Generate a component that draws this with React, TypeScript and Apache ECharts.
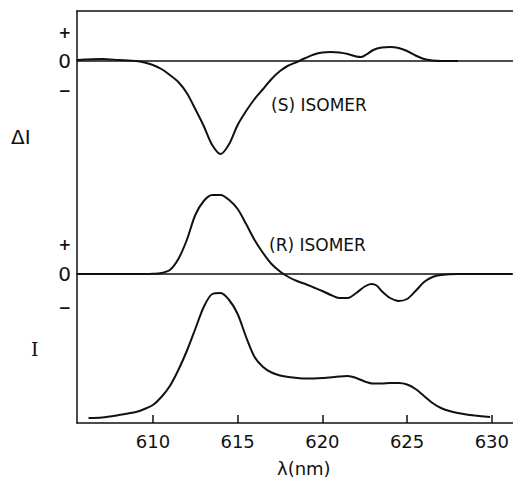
import { useEffect, useRef } from "react";
import * as echarts from "echarts";

// Wavelength axis (nm)
const xTicks = [610, 615, 620, 625, 630];
const X_MIN = 605.52;
const X_MAX = 631.25;

// (S) isomer: circularly polarised difference signal ΔI
const sWavelength = [605.5, 606, 607, 608, 609, 609.5, 610, 610.5, 611, 611.5, 612, 612.5, 613, 613.5, 614, 614.5, 615, 615.5, 616, 616.5, 617, 617.5, 618, 618.5, 619, 619.5, 620, 620.5, 621, 621.5, 622, 622.3, 622.6, 623, 623.5, 624, 624.5, 625, 625.5, 626, 626.5, 627, 628];
const sDelta = [0.1, 0.15, 0.2, 0.1, 0, -0.15, -0.4, -0.8, -1.4, -2.1, -3.2, -4.8, -6.5, -8.4, -9.3, -8.3, -6.4, -5.0, -3.8, -2.8, -1.8, -1.0, -0.45, -0.1, 0.3, 0.65, 0.85, 0.9, 0.85, 0.7, 0.45, 0.4, 0.65, 1.1, 1.35, 1.4, 1.3, 1.0, 0.55, 0.2, 0.05, 0, 0];

// (R) isomer: difference signal ΔI
const rWavelength = [605.5, 607, 609, 609.5, 610, 610.5, 611, 611.5, 612, 612.5, 613, 613.5, 614, 614.5, 615, 615.5, 616, 616.5, 617, 617.5, 618, 618.5, 619, 619.5, 620, 620.5, 621, 621.5, 622, 622.5, 622.9, 623.2, 623.5, 624, 624.5, 625, 625.5, 626, 626.5, 627, 628, 631.2];
const rDelta = [0, 0, 0, 0, 0.02, 0.1, 0.4, 1.5, 3.4, 5.9, 7.3, 7.9, 7.9, 7.4, 6.5, 5.0, 3.4, 2.1, 1.0, 0.25, -0.3, -0.7, -1.0, -1.35, -1.7, -2.1, -2.4, -2.4, -1.9, -1.25, -1.0, -1.15, -1.7, -2.4, -2.7, -2.5, -1.7, -0.8, -0.3, -0.1, 0, 0];

// Total emission intensity I
const iWavelength = [606.2, 607, 608, 609, 609.5, 610, 610.5, 611, 611.5, 612, 612.5, 613, 613.5, 614, 614.5, 615, 615.5, 616, 616.5, 617, 617.5, 618, 619, 620, 621, 621.5, 622, 622.5, 623, 623.5, 624, 624.5, 625, 625.5, 626, 626.5, 627, 627.5, 628, 628.5, 629, 629.9];
const intensity = [0.5, 0.55, 0.8, 1.1, 1.4, 1.8, 2.6, 3.7, 5.3, 7.2, 9.4, 11.6, 12.9, 13.0, 12.3, 10.9, 8.6, 6.6, 5.6, 5.05, 4.75, 4.6, 4.45, 4.5, 4.65, 4.7, 4.5, 4.15, 3.95, 3.95, 4.0, 4.0, 3.85, 3.4, 2.7, 2.0, 1.5, 1.2, 1.0, 0.85, 0.75, 0.6];

// Sign marks beside each ΔI baseline
const sSignTicks = [2.8, 0, -3.0];
const rSignTicks = [2.9, 0, -3.4];

// Layout (pixels)
const WIDTH = 513;
const HEIGHT = 481;
const GRID_LEFT = 77;
const GRID_TOP = 11;
const GRID_BOTTOM = 423;
const PX_PER_UNIT = 10;
const S_ZERO = 61;
const R_ZERO = 274;
const I_ZERO = 423;

const FONT = "DejaVu Sans";
const INK = "#111";

function rangeFor(zeroPx: number) {
  return {
    min: -(GRID_BOTTOM - zeroPx) / PX_PER_UNIT,
    max: (zeroPx - GRID_TOP) / PX_PER_UNIT,
  };
}

const zip = (xs: number[], ys: number[]) => xs.map((x, i) => [x, ys[i]]);

const signFormatter = (v: number) =>
  v > 0 ? "{s|+}" : v < 0 ? "{s|−}" : "{z|0}";

export default function App() {
  const ref = useRef<HTMLDivElement>(null);

  useEffect(() => {
    if (!ref.current) return;
    const chart = echarts.init(ref.current, undefined, { renderer: "svg" });

    const signLabel = (values: number[]) => ({
      show: true,
      customValues: values,
      formatter: signFormatter,
      margin: 6,
      rich: {
        s: { fontSize: 15, fontFamily: FONT, color: INK, fontWeight: "bold" },
        z: { fontSize: 20, fontFamily: FONT, color: INK },
      },
    });

    const lineSeries = (data: number[][], yAxisIndex: number, withZero: boolean) => ({
      type: "line",
      xAxisIndex: 0,
      yAxisIndex,
      data,
      smooth: 0.3,
      showSymbol: false,
      symbol: "none",
      clip: true,
      lineStyle: { color: INK, width: 2 },
      z: 3,
      markLine: withZero
        ? {
            silent: true,
            symbol: "none",
            label: { show: false },
            lineStyle: { color: INK, width: 1.5, type: "solid" },
            data: [{ yAxis: 0 }],
          }
        : undefined,
    });

    chart.setOption({
      animation: false,
      backgroundColor: "#fff",
      grid: {
        left: GRID_LEFT,
        top: GRID_TOP,
        right: 0,
        bottom: HEIGHT - GRID_BOTTOM,
        containLabel: false,
      },
      xAxis: [
        {
          type: "value",
          min: X_MIN,
          max: X_MAX,
          position: "bottom",
          splitLine: { show: false },
          axisLine: { show: true, onZero: false, lineStyle: { color: INK, width: 1.5 } },
          axisTick: {
            show: true,
            inside: true,
            length: 8,
            customValues: xTicks,
            lineStyle: { color: INK, width: 1.5 },
          },
          axisLabel: {
            show: true,
            customValues: xTicks,
            margin: 9,
            fontSize: 18,
            fontFamily: FONT,
            color: INK,
          },
        },
        {
          type: "value",
          min: X_MIN,
          max: X_MAX,
          position: "top",
          splitLine: { show: false },
          axisLine: { show: true, onZero: false, lineStyle: { color: INK, width: 1.5 } },
          axisTick: { show: false },
          axisLabel: { show: false },
        },
      ],
      yAxis: [
        {
          type: "value",
          ...rangeFor(S_ZERO),
          position: "left",
          splitLine: { show: false },
          axisLine: { show: true, onZero: false, lineStyle: { color: INK, width: 1.5 } },
          axisTick: { show: false },
          axisLabel: signLabel(sSignTicks),
        },
        {
          type: "value",
          ...rangeFor(R_ZERO),
          position: "left",
          splitLine: { show: false },
          axisLine: { show: false },
          axisTick: { show: false },
          axisLabel: signLabel(rSignTicks),
        },
        {
          type: "value",
          ...rangeFor(I_ZERO),
          position: "left",
          splitLine: { show: false },
          axisLine: { show: false },
          axisTick: { show: false },
          axisLabel: { show: false },
        },
      ],
      series: [
        lineSeries(zip(sWavelength, sDelta), 0, true),
        lineSeries(zip(rWavelength, rDelta), 1, true),
        lineSeries(zip(iWavelength, intensity), 2, false),
      ],
      graphic: [
        {
          type: "text",
          left: 11,
          top: 127,
          style: { text: "ΔI", fontSize: 20, fontFamily: FONT, fill: INK },
        },
        {
          type: "text",
          left: 31,
          top: 339,
          style: { text: "I", fontSize: 19, fontFamily: "DejaVu Serif", fill: INK },
        },
        {
          type: "text",
          left: 271,
          top: 96,
          style: { text: "(S) ISOMER", fontSize: 17, fontFamily: FONT, fill: INK },
        },
        {
          type: "text",
          left: 269,
          top: 236,
          style: { text: "(R) ISOMER", fontSize: 17, fontFamily: FONT, fill: INK },
        },
        {
          type: "text",
          left: 277,
          top: 459,
          style: { text: "λ(nm)", fontSize: 18, fontFamily: FONT, fill: INK },
        },
      ],
    });

    return () => chart.dispose();
  }, []);

  return (
    <div
      ref={ref}
      style={{ position: "fixed", left: 0, top: 0, width: WIDTH, height: HEIGHT, background: "#fff" }}
    />
  );
}
